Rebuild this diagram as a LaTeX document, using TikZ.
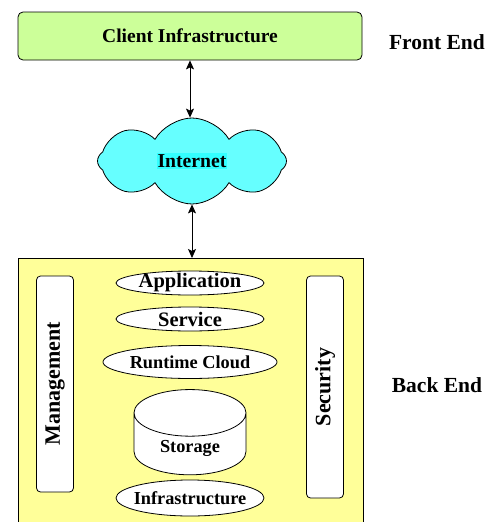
\documentclass[tikz,border=0pt]{standalone}
\usepackage{fontspec}
\setmainfont{Liberation Serif}
\usetikzlibrary{shapes,arrows.meta}
\definecolor{clientgreen}{HTML}{CCFF99}
\definecolor{netcyan}{HTML}{66FFFF}
\definecolor{netmark}{HTML}{33FFFF}
\definecolor{backyellow}{HTML}{FFFF99}
\newcommand{\fs}[1]{\fontsize{#1}{#1}\selectfont\bfseries}
\tikzstyle{tag}=[font=\fs{21.5}]

\begin{document}
\begin{tikzpicture}[x=1pt,y=-1pt,line width=0.8pt]
\useasboundingbox (0,0) rectangle (491,522);
\tikzstyle{layer}=[ellipse,draw,fill=white,inner sep=0pt]
\tikzstyle{side}=[rectangle,rounded corners=4pt,draw,fill=white,rotate=90,minimum height=37pt]
\tikzstyle{link}=[{Stealth[length=9pt,width=8pt,inset=2pt]}-{Stealth[length=9pt,width=8pt,inset=2pt]}]

\node[draw,rounded corners=5pt,fill=clientgreen,minimum width=344pt,minimum height=48pt,font=\fs{19.5}] (client) at (190,36) {Client Infrastructure};
\node[tag] (front) at (437,42) {Front End};

\node[cloud,cloud puffs=8,cloud puff arc=120,aspect=2.2,draw,fill=netcyan,minimum width=189pt,minimum height=86pt,inner sep=0pt,font=\fs{19.7}] (net) at (192,161) {\setlength{\fboxsep}{1pt}\colorbox{netmark}{Internet}};

\node[draw,fill=backyellow,minimum width=345pt,minimum height=290pt,anchor=north west] (back) at (18,258) {};
\node[tag] (backend) at (437,385) {Back End};

\node[side,minimum width=216pt,font=\fs{22}] (mgmt) at (55,384) {Management};
\node[side,minimum width=222pt,font=\fs{22}] (sec) at (325,387) {Security};

\node[layer,inner ysep=-2pt,minimum width=148pt,minimum height=24pt,font=\fs{20.5}] (app) at (190,283) {Application};
\node[layer,inner ysep=-2pt,minimum width=148pt,minimum height=24pt,font=\fs{20.5}] (svc) at (190,319) {Service};
\node[layer,minimum width=174pt,minimum height=33pt,font=\fs{18.3}] (rt) at (190,362) {Runtime Cloud};
\node[cylinder,shape border rotate=90,draw,fill=white,aspect=0.7,minimum height=74pt,minimum width=112pt,font=\fs{18.3}] (store) at (190,448) {Storage};
\node[layer,inner xsep=-4pt,minimum width=148pt,minimum height=36pt,font=\fs{18.3}] (infra) at (190,498) {Infrastructure};

\path (client.south) edge[link] (client.south |- net.north);
\path (net.south) edge[link] (net.south |- back.north);
\end{tikzpicture}
\end{document}
